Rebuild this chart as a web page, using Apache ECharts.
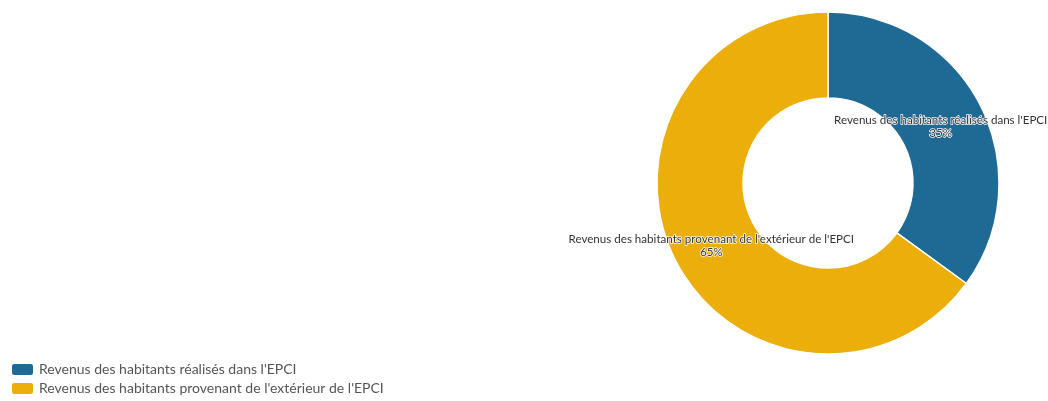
<!DOCTYPE html>
<html>
<head>
<meta charset="utf-8">
<script src="https://cdn.jsdelivr.net/npm/echarts@6/dist/echarts.min.js"></script>
<style>
  html, body { margin: 0; padding: 0; background: #fff; }
  #chart { width: 1048px; height: 401px; }
</style>
</head>
<body>
<div id="chart"></div>
<script>
// Income origin of EPCI residents (share, %)
const categories = [
  "Revenus des habitants réalisés dans l'EPCI",
  "Revenus des habitants provenant de l'extérieur de l'EPCI"
];
const values = [35, 65];
const colors = ['#1e6a94', '#ecae0a'];
// small nudges so the inside labels stay within the canvas
const labelOffsets = [[-4, 3], [0, 3]];

const chart = echarts.init(document.getElementById('chart'));
chart.setOption({
  animation: false,
  color: colors,
  legend: {
    orient: 'vertical',
    left: 5,
    bottom: 0,
    itemWidth: 23,
    itemHeight: 13,
    itemGap: 4,
    icon: 'roundRect',
    textStyle: { color: '#555', fontSize: 14, fontFamily: 'Lato' },
    data: categories
  },
  series: [{
    type: 'pie',
    center: [828, 183],
    radius: [85, 171],
    startAngle: 90,
    clockwise: true,
    itemStyle: { borderColor: '#fff', borderWidth: 1.5 },
    label: {
      show: true,
      position: 'inside',
      formatter: '{b}\n{d}%',
      color: '#333',
      fontSize: 11.6,
      fontFamily: 'Lato',
      lineHeight: 13,
      textBorderColor: '#fff',
      textBorderWidth: 1.5
    },
    labelLine: { show: false },
    data: categories.map((name, i) => ({
      name,
      value: values[i],
      label: { offset: labelOffsets[i] }
    }))
  }]
});
</script>
</body>
</html>
